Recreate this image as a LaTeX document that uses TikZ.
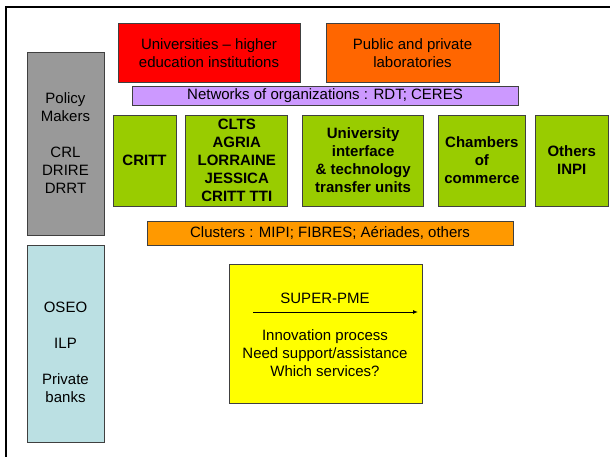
\documentclass[tikz,border=0pt]{standalone}
\usepackage{fontspec}
\setmainfont{Liberation Sans}
\usetikzlibrary{positioning,arrows.meta}
\definecolor{univred}{HTML}{FF0000}
\definecolor{laborange}{HTML}{FF6600}
\definecolor{netpurple}{HTML}{CC99FF}
\definecolor{actgreen}{HTML}{99CC00}
\definecolor{polgray}{HTML}{999999}
\definecolor{clustorange}{HTML}{FF9900}
\definecolor{finblue}{HTML}{BBE0E3}
\definecolor{pmeyellow}{HTML}{FFFF00}

\begin{document}
\begin{tikzpicture}[x=1pt,y=-1pt,font=\fontsize{15}{18}\selectfont,
    box/.style={draw=black!75,line width=0.8pt,inner sep=0pt,align=center},
    actor/.style={box,fill=actgreen,font=\fontsize{15}{18}\selectfont\bfseries,minimum height=91pt}]
    \useasboundingbox (0,0) rectangle (610,457);
    \draw[line width=2pt] (6,457) -- (6,7) -- (610,7);

    \node[box,fill=univred,minimum width=182pt,minimum height=59pt] (univ) at (209,53) {Universities -- higher\\education institutions};
    \node[box,fill=laborange,minimum width=173pt,minimum height=59pt] (labs) at (412.5,53) {Public and private\\laboratories};
    \node[box,fill=netpurple,minimum width=386pt,minimum height=19pt] (netw) at (325,95.5) {Networks of organizations : RDT; CERES};

    \node[actor,minimum width=63pt] (critt) at (144.5,160.5) {CRITT};
    \node[actor,minimum width=102pt,right=9pt of critt] (clts) {CLTS\\AGRIA\\LORRAINE\\JESSICA\\CRITT TTI};
    \node[actor,minimum width=121pt,right=14pt of clts] (iface) {University\\interface\\\& technology\\transfer units};
    \node[actor,minimum width=87pt,right=14pt of iface] (cci) {Chambers\\of\\commerce};
    \node[actor,minimum width=73pt,right=9pt of cci] (inpi) {Others\\INPI};

    \node[box,fill=clustorange,minimum width=366pt,minimum height=24pt] (clust) at (330,233) {Clusters : MIPI; FIBRES; Aériades, others};

    \node[box,fill=polgray,minimum width=77pt,minimum height=183pt] (policy) at (65.5,143.5) {Policy\\Makers\\[18pt]CRL\\DRIRE\\DRRT};
    \node[box,fill=finblue,minimum width=77pt,minimum height=197pt] (fin) at (65.5,343.5) {};
    \node[align=center] (fintxt) at (65.5,352) {OSEO\\[18pt]ILP\\[18pt]Private\\banks};

    \node[box,fill=pmeyellow,minimum width=193pt,minimum height=139pt] (pme) at (325.5,333.5) {};
    \node (pmename) at (325,298) {SUPER-PME};
    \coordinate (arrS) at (253,312);
    \coordinate (arrE) at (418,312);
    \path[-{Latex[length=5pt,width=4pt]},line width=1pt] (arrS) edge (arrE);
    \node[align=center] (needs) at (325,353) {Innovation process\\Need support/assistance\\Which services?};
\end{tikzpicture}
\end{document}
